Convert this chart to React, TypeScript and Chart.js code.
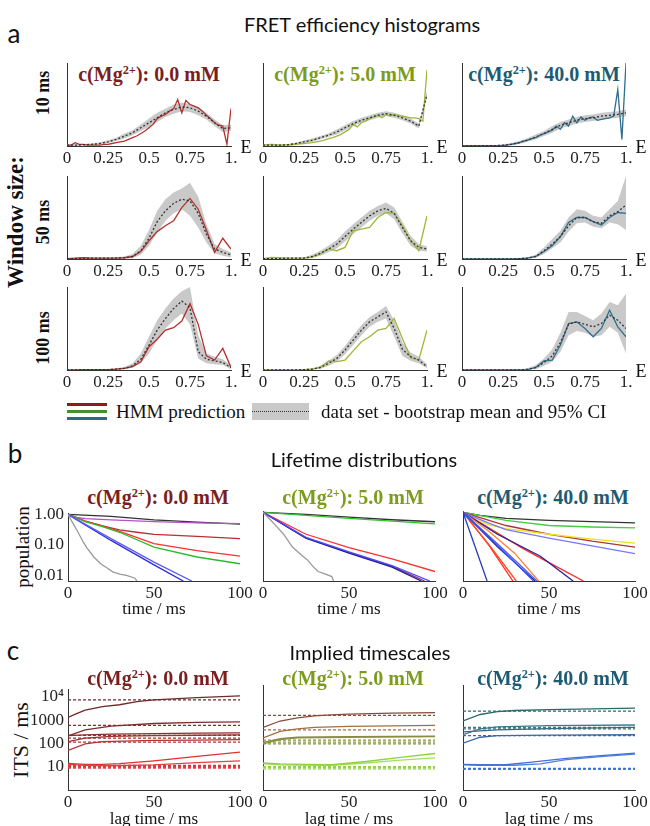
import React, { useEffect, useRef } from 'react';
import { Chart, registerables } from 'chart.js';
Chart.register(...registerables);

const SERIF = "'Liberation Serif', 'Times New Roman', serif";
const SANS = "Lato, 'Open Sans', sans-serif";

// ---------------- data: FRET efficiency histograms ----------------
const E_FINE = [0,0.025,0.05,0.075,0.1,0.125,0.15,0.175,0.2,0.225,0.25,0.275,0.3,0.325,0.35,0.375,0.4,0.425,0.45,0.475,0.5,0.525,0.55,0.575,0.6,0.625,0.65,0.675,0.7,0.725,0.75,0.775,0.8,0.825,0.85,0.875,0.9,0.925,0.95,0.975,1];
const E_BINS = [0,0.05,0.1,0.15,0.2,0.25,0.3,0.35,0.4,0.45,0.5,0.55,0.6,0.65,0.7,0.75,0.8,0.85,0.9,0.95,1];
const X_TICK_LABELS = ['0', '0.25', '0.5', '0.75', '1.'];

// 10 ms window
const h10_mg0_hmm = [0.01,0.01,0.04,0.02,0.02,0.01,0.01,0.01,0.01,0.02,0.02,0.03,0.04,0.05,0.06,0.08,0.10,0.12,0.15,0.18,0.22,0.26,0.33,0.36,0.38,0.42,0.45,0.56,0.40,0.55,0.50,0.48,0.46,0.42,0.37,0.33,0.28,0.25,0.24,0.02,0.45];
const h10_mg0_mean = [0.01,0.01,0.015,0.02,0.03,0.05,0.08,0.12,0.16,0.22,0.28,0.34,0.40,0.44,0.47,0.46,0.42,0.36,0.28,0.21,0.22];
const h10_mg0_hi = [0.02,0.02,0.025,0.03,0.045,0.07,0.10,0.15,0.19,0.26,0.33,0.40,0.45,0.50,0.52,0.51,0.47,0.40,0.32,0.25,0.26];
const h10_mg0_lo = [0.0,0.0,0.005,0.01,0.02,0.035,0.06,0.09,0.13,0.18,0.23,0.29,0.35,0.39,0.42,0.41,0.37,0.32,0.24,0.17,0.18];

const h10_mg5_hmm = [0.01,0.015,0.02,0.015,0.01,0.01,0.01,0.015,0.02,0.025,0.03,0.035,0.04,0.05,0.06,0.07,0.09,0.10,0.12,0.14,0.17,0.20,0.26,0.23,0.28,0.30,0.33,0.35,0.37,0.34,0.38,0.36,0.38,0.37,0.36,0.35,0.34,0.34,0.33,0.30,0.92];
const h10_mg5_mean = [0.01,0.01,0.01,0.015,0.03,0.05,0.07,0.10,0.13,0.17,0.22,0.27,0.31,0.34,0.37,0.39,0.37,0.34,0.30,0.24,0.62];
const h10_mg5_hi = [0.015,0.015,0.02,0.025,0.04,0.065,0.09,0.12,0.155,0.20,0.25,0.30,0.34,0.37,0.40,0.42,0.40,0.37,0.33,0.27,0.66];
const h10_mg5_lo = [0.005,0.005,0.005,0.01,0.02,0.035,0.05,0.08,0.11,0.14,0.19,0.24,0.28,0.31,0.34,0.36,0.34,0.31,0.27,0.21,0.58];

const h10_mg40_hmm = [0.005,0.005,0.005,0.005,0.005,0.005,0.005,0.005,0.005,0.005,0.005,0.01,0.02,0.03,0.04,0.06,0.07,0.09,0.10,0.13,0.15,0.17,0.19,0.24,0.20,0.28,0.24,0.36,0.28,0.35,0.31,0.34,0.35,0.31,0.32,0.33,0.34,0.36,0.68,0.08,1.0];
const h10_mg40_mean = [0,0,0,0.005,0.005,0.01,0.02,0.04,0.07,0.11,0.15,0.20,0.25,0.28,0.31,0.33,0.34,0.36,0.37,0.38,0.40];
const h10_mg40_hi = [0.005,0.005,0.005,0.01,0.01,0.02,0.035,0.06,0.095,0.14,0.18,0.24,0.29,0.32,0.35,0.37,0.38,0.40,0.41,0.42,0.44];
const h10_mg40_lo = [0,0,0,0,0,0.005,0.01,0.025,0.05,0.08,0.12,0.16,0.21,0.24,0.27,0.29,0.30,0.32,0.33,0.34,0.36];

// 50 ms window
const h50_mg0_hmm = [0.005,0.01,0.015,0.01,0.01,0.01,0.01,0.015,0.03,0.09,0.22,0.33,0.40,0.46,0.62,0.73,0.60,0.35,0.08,0.25,0.12];
const h50_mg0_mean = [0.005,0.005,0.01,0.01,0.01,0.01,0.01,0.015,0.03,0.10,0.25,0.45,0.58,0.67,0.72,0.70,0.55,0.30,0.12,0.08,0.05];
const h50_mg0_hi = [0.01,0.01,0.015,0.015,0.015,0.015,0.02,0.03,0.06,0.16,0.35,0.58,0.72,0.80,0.85,0.92,0.75,0.42,0.18,0.12,0.08];
const h50_mg0_lo = [0,0,0.005,0.005,0.005,0.005,0.005,0.005,0.01,0.05,0.16,0.32,0.46,0.55,0.60,0.52,0.38,0.20,0.07,0.04,0.02];

const h50_mg5_hmm = [0.005,0.02,0.015,0.01,0.01,0.01,0.02,0.06,0.12,0.10,0.14,0.34,0.36,0.38,0.50,0.56,0.55,0.40,0.22,0.10,0.52];
const h50_mg5_mean = [0.005,0.005,0.005,0.01,0.01,0.01,0.03,0.07,0.12,0.18,0.27,0.36,0.44,0.52,0.58,0.61,0.55,0.38,0.22,0.14,0.12];
const h50_mg5_hi = [0.01,0.01,0.01,0.015,0.015,0.02,0.05,0.10,0.16,0.23,0.33,0.42,0.50,0.58,0.64,0.68,0.62,0.45,0.28,0.18,0.15];
const h50_mg5_lo = [0,0,0,0.005,0.005,0.005,0.015,0.04,0.08,0.13,0.21,0.30,0.38,0.46,0.52,0.55,0.48,0.31,0.16,0.10,0.09];

const h50_mg40_hmm = [0,0,0,0,0,0,0,0.005,0.01,0.03,0.09,0.16,0.27,0.44,0.50,0.50,0.45,0.41,0.50,0.56,0.55];
const h50_mg40_mean = [0,0,0,0,0,0,0,0.005,0.01,0.03,0.10,0.18,0.27,0.40,0.50,0.50,0.45,0.43,0.52,0.57,0.65];
const h50_mg40_hi = [0,0,0,0,0,0,0.005,0.01,0.02,0.05,0.14,0.24,0.34,0.50,0.60,0.58,0.52,0.50,0.60,0.70,1.0];
const h50_mg40_lo = [0,0,0,0,0,0,0,0,0.005,0.015,0.06,0.13,0.20,0.33,0.43,0.44,0.39,0.37,0.44,0.42,0.35];

// 100 ms window
const h100_mg0_hmm = [0,0,0.005,0.005,0.005,0.005,0.01,0.02,0.04,0.10,0.28,0.37,0.48,0.51,0.59,0.80,0.55,0.17,0.12,0.26,0.03];
const h100_mg0_mean = [0,0,0.005,0.005,0.005,0.005,0.01,0.02,0.05,0.13,0.30,0.48,0.62,0.74,0.83,0.75,0.22,0.13,0.11,0.09,0.03];
const h100_mg0_hi = [0.005,0.005,0.01,0.01,0.01,0.01,0.02,0.035,0.08,0.20,0.40,0.60,0.74,0.86,0.95,1.0,0.42,0.20,0.16,0.13,0.06];
const h100_mg0_lo = [0,0,0,0,0,0,0.005,0.01,0.03,0.08,0.20,0.36,0.50,0.60,0.68,0.55,0.14,0.08,0.07,0.06,0.01];

const h100_mg5_hmm = [0,0,0,0,0,0.005,0.01,0.03,0.11,0.10,0.12,0.23,0.34,0.40,0.48,0.50,0.62,0.38,0.15,0.12,0.48];
const h100_mg5_mean = [0,0,0,0,0,0.005,0.01,0.03,0.08,0.14,0.24,0.36,0.48,0.58,0.64,0.70,0.50,0.25,0.16,0.12,0.04];
const h100_mg5_hi = [0.005,0.005,0.005,0.005,0.005,0.01,0.02,0.05,0.11,0.18,0.29,0.42,0.54,0.64,0.70,0.77,0.60,0.33,0.21,0.16,0.07];
const h100_mg5_lo = [0,0,0,0,0,0,0.005,0.015,0.05,0.10,0.19,0.30,0.42,0.52,0.58,0.62,0.40,0.17,0.11,0.08,0.02];

const h100_mg40_hmm = [0,0,0,0,0,0,0,0,0.005,0.03,0.11,0.12,0.30,0.56,0.58,0.50,0.40,0.50,0.72,0.52,0.40];
const h100_mg40_mean = [0,0,0,0,0,0,0,0,0.01,0.03,0.09,0.17,0.33,0.55,0.58,0.55,0.52,0.56,0.66,0.60,0.50];
const h100_mg40_hi = [0,0,0,0,0,0,0,0.005,0.02,0.06,0.14,0.25,0.45,0.70,0.70,0.65,0.60,0.68,0.82,0.78,0.92];
const h100_mg40_lo = [0,0,0,0,0,0,0,0,0.005,0.01,0.05,0.10,0.22,0.42,0.47,0.45,0.40,0.42,0.52,0.45,0.20];

// ---------------- data: lifetime distributions [time ms, population] ----------------
const LIFE_TICKS = [0.01, 0.1, 1];
const LIFE_TICK_LABELS = ['0.01', '0.10', '1.00'];

const life0_black = [[0,1],[25,0.86],[50,0.66],[75,0.56],[100,0.48]];
const life0_purple = [[0,1],[5,0.8],[10,0.73],[25,0.66],[50,0.58],[75,0.53],[100,0.5]];
const life0_darkred = [[0,1],[10,0.6],[20,0.42],[30,0.31],[40,0.26],[50,0.22],[75,0.19],[100,0.16]];
const life0_red = [[0,1],[10,0.6],[20,0.42],[30,0.28],[50,0.11],[75,0.065],[100,0.043]];
const life0_green = [[0,1],[10,0.58],[20,0.4],[30,0.26],[50,0.085],[75,0.04],[100,0.024]];
const life0_blue1 = [[0,1],[25,0.14],[50,0.022],[67,0.0065]];
const life0_blue2 = [[0,1],[25,0.16],[50,0.027],[72,0.0065]];
const life0_gray = [[0,1],[3,0.5],[6,0.25],[9,0.12],[11,0.08],[15,0.04],[19,0.024],[23,0.017],[26,0.013],[30,0.011],[34,0.01],[39,0.008],[40,0.0065]];

const life5_black = [[0,1],[25,0.86],[50,0.7],[75,0.58],[100,0.5]];
const life5_green = [[0,1],[25,0.8],[50,0.64],[75,0.52],[100,0.43]];
const life5_red = [[0,1],[25,0.2],[50,0.075],[75,0.033],[100,0.013]];
const life5_navy = [[0,1],[25,0.15],[50,0.05],[75,0.018],[92,0.0065]];
const life5_purple = [[0,1],[25,0.15],[50,0.052],[75,0.019],[94,0.0065]];
const life5_blue = [[0,1],[25,0.16],[50,0.055],[75,0.02],[97,0.0065]];
const life5_gray = [[0,1],[4,0.6],[8,0.35],[12,0.2],[17,0.08],[22,0.045],[26,0.03],[29,0.019],[32,0.013],[36,0.011],[40,0.009],[41,0.0065]];

const life40_black = [[0,1],[10,0.8],[25,0.64],[50,0.55],[100,0.46]];
const life40_green = [[0,1],[25,0.55],[50,0.38],[75,0.34],[100,0.32]];
const life40_brown = [[0,1],[25,0.38],[50,0.2],[75,0.12],[100,0.078]];
const life40_yellow = [[0,1],[15,0.4],[25,0.3],[50,0.2],[75,0.14],[100,0.105]];
const life40_lightblue = [[0,1],[15,0.45],[25,0.28],[50,0.15],[75,0.085],[100,0.048]];
const life40_red = [[0,1],[20,0.22],[35,0.07],[50,0.025],[70,0.0065]];
const life40_navy = [[0,1],[20,0.2],[45,0.04],[64,0.0065]];
const life40_orange = [[0,1],[15,0.25],[30,0.05],[44,0.0065]];
const life40_orangered1 = [[0,1],[16,0.08],[31,0.0065]];
const life40_orangered2 = [[0,1],[15,0.09],[29,0.0065]];
const life40_blue1 = [[0,1],[20,0.09],[41,0.0065]];
const life40_blue2 = [[0,1],[20,0.1],[43,0.0065]];
const life40_blue3 = [[0,1],[20,0.08],[42,0.0065]];
const life40_steep = [[0,1],[14,0.0065]];

// ---------------- data: implied timescales [lag ms, ITS ms] ----------------
const ITS_TICKS = [10, 100, 1000, 10000];
const ITS_TICK_LABELS = ['10', '100', '1000', '10\u2074'];

const its0_a = [[0,1300],[5,1900],[10,2700],[20,3800],[30,4600],[40,6200],[50,7400],[75,9300],[100,11000]];
const its0_b = [[0,210],[10,380],[25,560],[50,720],[75,800],[100,850]];
const its0_c = [[0,215],[10,235],[25,250],[50,265],[75,275],[100,285]];
const its0_d = [[0,120],[10,170],[25,200],[50,215],[75,225],[100,235]];
const its0_e = [[0,50],[10,95],[20,120],[50,135],[75,140],[100,145]];
const its0_f = [[0,14],[10,12.5],[20,12.5],[30,13.5],[50,18],[75,28],[100,42]];
const its0_g = [[0,12.5],[10,11.5],[25,11],[50,12],[75,15],[100,18]];
const its0_ref = [7500, 600, 220, 170, 115, 11, 10, 9];

const its5_a = [[0,380],[10,700],[20,950],[30,1150],[40,1250],[50,1350],[75,1480],[100,1550]];
const its5_b = [[0,140],[10,260],[20,330],[30,380],[50,420],[75,440],[100,460]];
const its5_c = [[0,90],[10,130],[20,150],[50,160],[100,165]];
const its5_d = [[0,80],[10,120],[20,140],[50,150],[100,160]];
const its5_e = [[0,13],[10,12],[25,11.5],[40,11],[60,15],[80,22],[100,32]];
const its5_f = [[0,12],[10,11],[25,10.5],[40,10.5],[60,13],[80,17],[100,21]];
const its5_ref = [1200, 300, 115, 95, 80, 9, 8.2, 7.5];

const its40_a = [[0,700],[10,1300],[20,1700],[30,1900],[50,2050],[75,2200],[100,2400]];
const its40_b = [[0,190],[10,330],[20,400],[50,450],[100,480]];
const its40_c = [[0,250],[20,300],[50,340],[100,380]];
const its40_d = [[0,85],[10,150],[20,175],[50,185],[100,190]];
const its40_e = [[0,11.5],[10,11],[25,11],[40,14],[60,20],[80,26],[100,33]];
const its40_f = [[0,11],[10,10.5],[30,10.5],[45,12],[60,18],[80,24],[100,30]];
const its40_ref = [1800, 380, 330, 175, 7.6, 7.2];

// ---------------- layout ----------------
const HX = [67, 263, 462];
const HW = 164;
const HY = [63, 176, 287];
const HH = 83;
const LX = [68, 263, 463];
const LW = 172;
const LTOP = 511;
const LH = 70;
const ITOP = 685;
const IH = 105;

const TITLE_COLORS = ['#7b1e1e', '#7d9c1e', '#1e5b73'];
const HMM_COLORS = ['#b5302c', '#9cb83a', '#2e6e8e'];

const pts = (xs: number[], ys: number[]) => xs.map((x, i) => ({ x, y: ys[i] }));
const pairPts = (arr: number[][]) => arr.map(([x, y]) => ({ x, y }));

type Geo = { yw: number; xh: number; tp: number; rp: number };

function tickFont() {
  return { family: SERIF, size: 17 };
}

function histConfig(g: Geo, p: any) {
  return {
    type: 'line',
    data: {
      datasets: [
        { data: pts(E_BINS, p.mean), borderColor: '#333', borderDash: [2, 2], borderWidth: 1.3, pointRadius: 0, fill: false, order: 0 },
        { data: pts(p.hmmX, p.hmm), borderColor: p.color, borderWidth: 1.3, pointRadius: 0, fill: false, order: 1 },
        { data: pts(E_BINS, p.hi), borderColor: 'transparent', borderWidth: 0, pointRadius: 0, fill: '+1', backgroundColor: '#c9c9c9', order: 2 },
        { data: pts(E_BINS, p.lo), borderColor: 'transparent', borderWidth: 0, pointRadius: 0, fill: false, order: 3 },
      ],
    },
    options: {
      animation: false,
      responsive: false,
      events: [],
      layout: { padding: { left: 0, top: g.tp, right: g.rp, bottom: 0 } },
      plugins: { legend: { display: false }, tooltip: { enabled: false }, title: { display: false } },
      scales: {
        x: {
          type: 'linear', min: 0, max: 1,
          grid: { display: false, drawTicks: false },
          border: { color: '#333', width: 1 },
          ticks: { stepSize: 0.25, maxRotation: 0, autoSkip: false, padding: 2, color: '#222', font: tickFont(),
            callback: (v: number) => X_TICK_LABELS[Math.round(v * 4)] },
          afterFit: (s: any) => { s.height = g.xh; },
        },
        y: {
          min: 0, max: 1,
          grid: { display: false, drawTicks: false },
          border: { color: '#333', width: 1 },
          ticks: { display: false },
          afterFit: (s: any) => { s.width = g.yw; },
        },
      },
    },
  };
}

function logConfig(g: Geo, p: { lines: { d: number[][]; c: string; dash?: boolean; w?: number }[]; ymin: number; ymax: number; ticks: number[]; labels: string[] | null }) {
  return {
    type: 'line',
    data: {
      datasets: p.lines.map((l) => ({
        data: pairPts(l.d), borderColor: l.c, borderWidth: l.w ?? 1.3, borderDash: l.dash ? [3, 2] : [],
        pointRadius: 0, fill: false, tension: 0,
      })),
    },
    options: {
      animation: false,
      responsive: false,
      events: [],
      layout: { padding: { left: 0, top: g.tp, right: g.rp, bottom: 0 } },
      plugins: { legend: { display: false }, tooltip: { enabled: false }, title: { display: false } },
      scales: {
        x: {
          type: 'linear', min: 0, max: 100,
          grid: { display: false, drawTicks: false },
          border: { color: '#333', width: 1 },
          ticks: { stepSize: 50, maxRotation: 0, autoSkip: false, padding: 2, color: '#222', font: tickFont() },
          afterFit: (s: any) => { s.height = g.xh; },
        },
        y: {
          type: 'logarithmic', min: p.ymin, max: p.ymax,
          grid: { display: false, drawTicks: false },
          border: { color: '#333', width: 1 },
          afterBuildTicks: (ax: any) => { ax.ticks = p.ticks.map((v) => ({ value: v })); },
          ticks: {
            display: !!p.labels, padding: 4, color: '#222', font: tickFont(), autoSkip: false,
            callback: (v: number) => {
              const i = p.ticks.findIndex((t) => Math.abs(t - v) / t < 1e-6);
              return p.labels && i >= 0 ? p.labels[i] : '';
            },
          },
          afterFit: (s: any) => { s.width = g.yw; },
        },
      },
    },
  };
}

function ChartBox(props: { x: number; y: number; w: number; h: number; yw: number; xh: number; tp: number; rp: number; make: (g: Geo) => any }) {
  const ref = useRef<HTMLCanvasElement>(null);
  const { x, y, w, h, yw, xh, tp, rp, make } = props;
  useEffect(() => {
    const chart = new Chart(ref.current as HTMLCanvasElement, make({ yw, xh, tp, rp }));
    return () => chart.destroy();
  }, []);
  const W = yw + w + rp;
  const H = tp + h + xh;
  return (
    <canvas ref={ref} width={W} height={H}
      style={{ position: 'absolute', left: x - yw, top: y - tp, width: W, height: H }} />
  );
}

function Txt(props: { x: number; y: number; children: any; size?: number; family?: string; weight?: number; color?: string; rotate?: boolean; align?: 'left' | 'center' }) {
  const { x, y, children, size = 16, family = SERIF, weight = 400, color = '#111', rotate = false, align = 'center' } = props;
  const tx = align === 'left' ? '0' : '-50%';
  return (
    <div style={{
      position: 'absolute', left: x, top: y, whiteSpace: 'nowrap', lineHeight: 1,
      fontFamily: family, fontSize: size, fontWeight: weight, color,
      transform: `translate(${tx}, -50%)${rotate ? ' rotate(-90deg)' : ''}`,
    }}>{children}</div>
  );
}

function MgTitle({ x, y, conc, color }: { x: number; y: number; conc: string; color: string }) {
  return (
    <Txt x={x} y={y} size={20} weight={700} color={color}>
      c(Mg<span style={{ fontSize: '0.62em', position: 'relative', top: '-0.55em' }}>2+</span>): {conc} mM
    </Txt>
  );
}

const CONCS = ['0.0', '5.0', '40.0'];

const HIST_ROWS = [
  [
    { hmmX: E_FINE, hmm: h10_mg0_hmm, mean: h10_mg0_mean, lo: h10_mg0_lo, hi: h10_mg0_hi },
    { hmmX: E_FINE, hmm: h10_mg5_hmm, mean: h10_mg5_mean, lo: h10_mg5_lo, hi: h10_mg5_hi },
    { hmmX: E_FINE, hmm: h10_mg40_hmm, mean: h10_mg40_mean, lo: h10_mg40_lo, hi: h10_mg40_hi },
  ],
  [
    { hmmX: E_BINS, hmm: h50_mg0_hmm, mean: h50_mg0_mean, lo: h50_mg0_lo, hi: h50_mg0_hi },
    { hmmX: E_BINS, hmm: h50_mg5_hmm, mean: h50_mg5_mean, lo: h50_mg5_lo, hi: h50_mg5_hi },
    { hmmX: E_BINS, hmm: h50_mg40_hmm, mean: h50_mg40_mean, lo: h50_mg40_lo, hi: h50_mg40_hi },
  ],
  [
    { hmmX: E_BINS, hmm: h100_mg0_hmm, mean: h100_mg0_mean, lo: h100_mg0_lo, hi: h100_mg0_hi },
    { hmmX: E_BINS, hmm: h100_mg5_hmm, mean: h100_mg5_mean, lo: h100_mg5_lo, hi: h100_mg5_hi },
    { hmmX: E_BINS, hmm: h100_mg40_hmm, mean: h100_mg40_mean, lo: h100_mg40_lo, hi: h100_mg40_hi },
  ],
];

const LIFE_PANELS = [
  [
    { d: life0_gray, c: '#9a9a9a' }, { d: life0_blue2, c: '#5a5aff' }, { d: life0_blue1, c: '#2a2ad8' },
    { d: life0_green, c: '#2db82d' }, { d: life0_red, c: '#ff3030' }, { d: life0_darkred, c: '#b83030' },
    { d: life0_purple, c: '#b452c8' }, { d: life0_black, c: '#333333' },
  ],
  [
    { d: life5_gray, c: '#9a9a9a' }, { d: life5_blue, c: '#4a4aff' }, { d: life5_navy, c: '#22229a' },
    { d: life5_purple, c: '#9a2a6a' }, { d: life5_red, c: '#ff3030' }, { d: life5_green, c: '#30c030' },
    { d: life5_black, c: '#333333' },
  ],
  [
    { d: life40_steep, c: '#2a3ac0' }, { d: life40_blue1, c: '#3a50f0' }, { d: life40_blue2, c: '#4a60ff' },
    { d: life40_blue3, c: '#2a30a0' }, { d: life40_orangered1, c: '#ff4a20' }, { d: life40_orangered2, c: '#ff3020' },
    { d: life40_orange, c: '#ff8030' }, { d: life40_navy, c: '#23239a' }, { d: life40_red, c: '#ff2a2a' },
    { d: life40_lightblue, c: '#7878ff' }, { d: life40_yellow, c: '#f0e020' }, { d: life40_brown, c: '#a83838' },
    { d: life40_green, c: '#40d040' }, { d: life40_black, c: '#333333' },
  ],
];

const ITS0_COLORS = ['#6e2a2a', '#7e2c2c', '#8e2e2e', '#a03030', '#b83232', '#d83434', '#e84040', '#e84040'];
const ITS5_COLORS = ['#8a4a3a', '#a07040', '#8a8a40', '#8a9a3a', '#7a9a3a', '#90d040', '#a0e060', '#b0e070'];
const ITS40_COLORS = ['#2a6a6a', '#3a7a8a', '#3a6a7a', '#3a6aa0', '#4070d8', '#5080e0'];

const flat = (v: number) => [[0, v], [100, v]];

const ITS_PANELS = [
  [
    ...[its0_a, its0_b, its0_c, its0_d, its0_e, its0_f, its0_g].map((d, i) => ({ d, c: ITS0_COLORS[i] })),
    ...its0_ref.map((v, i) => ({ d: flat(v), c: ITS0_COLORS[i], dash: true, w: i >= 5 ? 1.8 : 1.2 })),
  ],
  [
    ...[its5_a, its5_b, its5_c, its5_d, its5_e, its5_f].map((d, i) => ({ d, c: ITS5_COLORS[i >= 4 ? i + 1 : i] })),
    ...its5_ref.map((v, i) => ({ d: flat(v), c: ITS5_COLORS[i], dash: true, w: i >= 5 ? 1.8 : 1.2 })),
  ],
  [
    ...[its40_a, its40_b, its40_c, its40_d, its40_e, its40_f].map((d, i) => ({ d, c: ITS40_COLORS[i] })),
    ...its40_ref.map((v, i) => ({ d: flat(v), c: ITS40_COLORS[i], dash: true, w: i >= 4 ? 1.8 : 1.2 })),
  ],
];

export default function App() {
  return (
    <div style={{ position: 'absolute', left: 0, top: 0, width: 650, height: 826, background: '#fff', overflow: 'hidden' }}>
      {/* ---------- panel a ---------- */}
      <Txt x={14} y={33} size={26} family={SANS} color="#111">a</Txt>
      <Txt x={362} y={24} size={20} family={SANS} color="#111">FRET efficiency histograms</Txt>
      <Txt x={15} y={222} size={23} weight={700} rotate>Window size:</Txt>
      <Txt x={43} y={93} size={18} weight={700} rotate>10 ms</Txt>
      <Txt x={43} y={222} size={18} weight={700} rotate>50 ms</Txt>
      <Txt x={43} y={338} size={18} weight={700} rotate>100 ms</Txt>
      {HX.map((x, c) => (
        <MgTitle key={'ht' + c} x={x + HW / 2} y={74} conc={CONCS[c]} color={TITLE_COLORS[c]} />
      ))}
      {HIST_ROWS.map((row, r) =>
        row.map((p, c) => (
          <React.Fragment key={'h' + r + c}>
            <ChartBox x={HX[c]} y={HY[r]} w={HW} h={HH} yw={10} xh={24} tp={2} rp={14}
              make={(g) => histConfig(g, { ...p, color: HMM_COLORS[c] })} />
            <Txt x={HX[c] + HW + 15} y={HY[r] + HH + 1} size={18}>E</Txt>
          </React.Fragment>
        ))
      )}
      {/* legend */}
      <div style={{ position: 'absolute', left: 67, top: 403, width: 40, height: 3, background: '#8b1c1c' }} />
      <div style={{ position: 'absolute', left: 67, top: 410, width: 40, height: 3, background: '#4a8c2e' }} />
      <div style={{ position: 'absolute', left: 67, top: 417, width: 40, height: 3, background: '#2a6b7c' }} />
      <Txt x={116} y={411} size={19} align="left">HMM prediction</Txt>
      <div style={{ position: 'absolute', left: 252, top: 403, width: 57, height: 17, background: '#c9c9c9' }} />
      <div style={{ position: 'absolute', left: 252, top: 411, width: 57, height: 0, borderTop: '1.5px dotted #333' }} />
      <Txt x={321} y={411} size={19} align="left">data set - bootstrap mean and 95% CI</Txt>

      {/* ---------- panel b ---------- */}
      <Txt x={15} y={453} size={26} family={SANS} color="#111">b</Txt>
      <Txt x={364} y={459} size={20} family={SANS} color="#111">Lifetime distributions</Txt>
      <Txt x={22} y={547} size={19} rotate>population</Txt>
      {LX.map((x, c) => (
        <React.Fragment key={'l' + c}>
          <MgTitle x={x + LW / 2 + 4} y={497} conc={CONCS[c]} color={TITLE_COLORS[c]} />
          <ChartBox x={x} y={LTOP} w={LW} h={LH} yw={c === 0 ? 55 : 12} xh={22} tp={12} rp={16}
            make={(g) => logConfig(g, { lines: LIFE_PANELS[c], ymin: 0.0065, ymax: 1.1, ticks: LIFE_TICKS, labels: c === 0 ? LIFE_TICK_LABELS : null })} />
          <Txt x={x + LW / 2} y={608} size={17}>time / ms</Txt>
        </React.Fragment>
      ))}

      {/* ---------- panel c ---------- */}
      <Txt x={13} y={650} size={26} family={SANS} color="#111">c</Txt>
      <Txt x={370} y={652} size={20} family={SANS} color="#111">Implied timescales</Txt>
      <Txt x={21} y={740} size={22} rotate>ITS / ms</Txt>
      {LX.map((x, c) => (
        <React.Fragment key={'i' + c}>
          <MgTitle x={x + LW / 2 + 4} y={678} conc={CONCS[c]} color={TITLE_COLORS[c]} />
          <ChartBox x={x} y={ITOP} w={LW} h={IH} yw={c === 0 ? 55 : 12} xh={22} tp={10} rp={16}
            make={(g) => logConfig(g, { lines: ITS_PANELS[c], ymin: 1, ymax: 21400, ticks: ITS_TICKS, labels: c === 0 ? ITS_TICK_LABELS : null })} />
          <Txt x={x + LW / 2} y={818} size={17}>lag time / ms</Txt>
        </React.Fragment>
      ))}
    </div>
  );
}
